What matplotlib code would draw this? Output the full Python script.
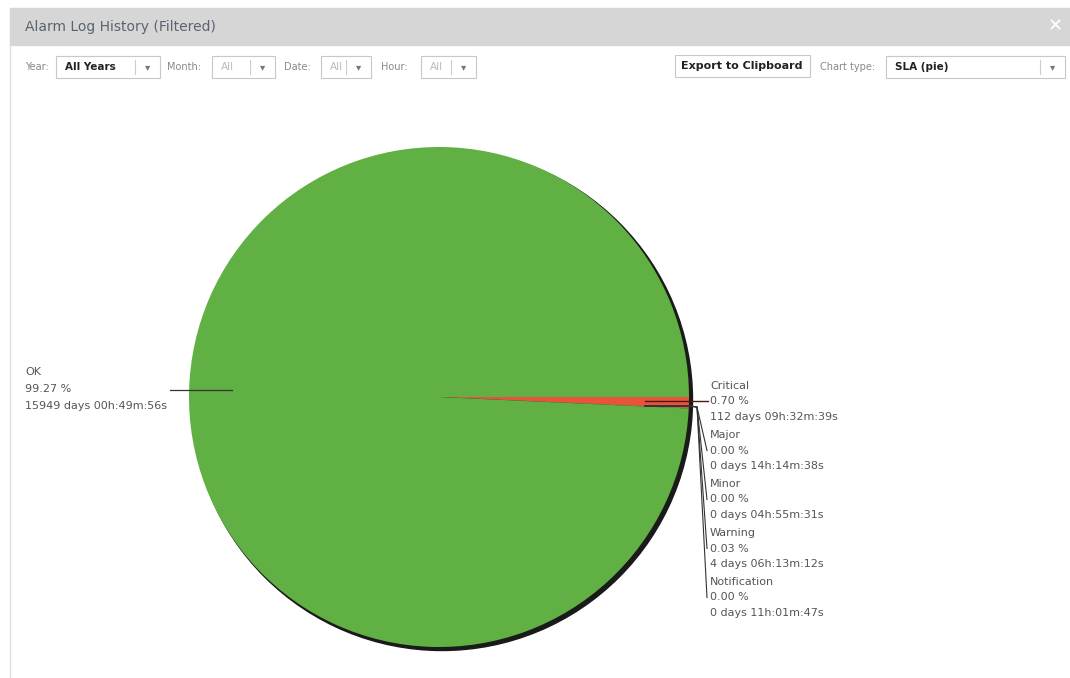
import matplotlib
matplotlib.use('Agg')
import matplotlib.pyplot as plt
from matplotlib.patches import Rectangle, Circle

# Slice data (order as drawn, clockwise from 3 o'clock)
names = ['Critical', 'Major', 'Minor', 'Warning', 'Notification', 'OK']
days = [112, 0, 0, 4, 0, 15949]
hours = [9, 14, 4, 6, 11, 0]
minutes = [32, 14, 55, 13, 1, 49]
seconds = [39, 38, 31, 12, 47, 56]
colors = ['#e8533c', '#f39a2e', '#f2d024', '#f5c842', '#5b9bd5', '#60b043']

durations = [d + h / 24 + m / 1440 + s / 86400
             for d, h, m, s in zip(days, hours, minutes, seconds)]
total = sum(durations)
label_lines = []
for n, v, d, h, m, s in zip(names, durations, days, hours, minutes, seconds):
    label_lines.append([n, '%.2f %%' % (v / total * 100),
                        '%d days %02dh:%02dm:%02ds' % (d, h, m, s)])

W, H = 1070, 678
fig = plt.figure(figsize=(W / 100, H / 100), dpi=100)
ax = fig.add_axes([0, 0, 1, 1])

txt = '#555555'
font = 'DejaVu Sans'
fs = 8

# shadow behind the pie
ax.add_patch(Circle((442, 400), 250.5, color='#1a1a1a', zorder=1))
# pie (y axis inverted, so counterclock=True reads clockwise on screen)
ax.pie(durations, colors=colors, startangle=0, counterclock=True,
       center=(439, 397), radius=250, frame=True,
       wedgeprops=dict(linewidth=0, zorder=2))

# header bar
ax.add_patch(Rectangle((10, 8), W - 10, 37, color='#d6d6d6', zorder=0))
ax.text(25, 27, 'Alarm Log History (Filtered)', fontsize=10, color='#5a6470',
        va='center', family=font)
ax.text(1055, 26, '\u2715', fontsize=13, color='white', va='center',
        ha='center', fontweight='bold', family=font)
# panel border
ax.plot([10, 10], [45, H], color='#dddddd', lw=1, zorder=0)

# control row
def box(x0, x1, text, bold, label, lx):
    ax.add_patch(Rectangle((x0, 56), x1 - x0, 22, facecolor='white',
                           edgecolor='#c8c8c8', lw=0.8, zorder=3))
    ax.plot([x1 - 25, x1 - 25], [60, 74], color='#cccccc', lw=0.8, zorder=4)
    ax.text(x1 - 12, 67, '\u25be', fontsize=7.5, color='#777777',
            ha='center', va='center', zorder=4, family=font)
    ax.text(x0 + 9, 67, text, fontsize=7.5, va='center', zorder=4, family=font,
            color='#222222' if bold else '#bbbbbb',
            fontweight='bold' if bold else 'normal')
    if label:
        ax.text(lx, 67, label, fontsize=7, color='#888888', va='center',
                family=font)

box(56, 160, 'All Years', True, 'Year:', 25)
box(212, 275, 'All', False, 'Month:', 167)
box(321, 371, 'All', False, 'Date:', 284)
box(421, 476, 'All', False, 'Hour:', 381)
box(886, 1065, 'SLA (pie)', True, 'Chart type:', 820)
ax.add_patch(Rectangle((675, 55), 135, 22, facecolor='white',
                       edgecolor='#c8c8c8', lw=0.8, zorder=3))
ax.text(742, 66, 'Export to Clipboard', fontsize=8, fontweight='bold',
        color='#222222', ha='center', va='center', zorder=4, family=font)

# OK label on the left
ok = label_lines[-1]
for i, line in enumerate(ok):
    ax.text(25, 372 + i * 17, line, fontsize=fs, color=txt, va='center',
            family=font)
ax.plot([170, 232], [390, 390], color='#333333', lw=0.9, zorder=5)

# small slice labels on the right
ly0 = 386
for k, lines in enumerate(label_lines[:-1]):
    base = ly0 + k * 49
    for i, line in enumerate(lines):
        ax.text(710, base + i * 15.5, line, fontsize=fs, color=txt,
                va='center', family=font)
    mid = base + 15.5
    if k == 0:
        ax.plot([645, 708], [401, 401], color='#4a1a10', lw=1, zorder=5)
    else:
        ax.plot([645, 690, 697, 707], [406, 406, 407, mid],
                color='#333333', lw=0.8, zorder=5)

ax.set_xlim(0, W)
ax.set_ylim(H, 0)
ax.set_aspect('auto')
ax.axis('off')
fig.savefig('out.png', dpi=100, facecolor='white')
